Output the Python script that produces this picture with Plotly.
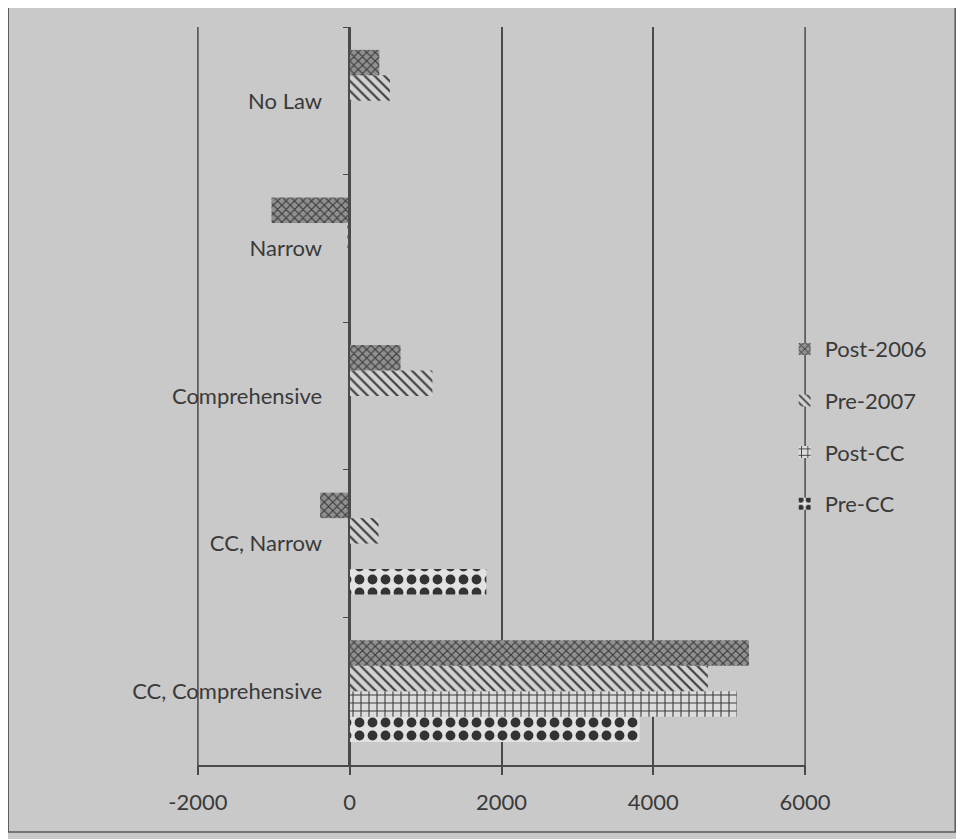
import plotly.graph_objects as go

categories = ["CC, Comprehensive", "CC, Narrow", "Comprehensive", "Narrow", "No Law"]
series_names = ["Pre-CC", "Post-CC", "Pre-2007", "Post-2006"]
pre_cc = [3820, 1800, 0, 0, 0]
post_cc = [5100, 0, 0, 0, 0]
pre_2007 = [4720, 380, 1090, -30, 530]
post_2006 = [5260, -390, 670, -1030, 390]
x_ticks = [-2000, 0, 2000, 4000, 6000]

values = [pre_cc, post_cc, pre_2007, post_2006]
patterns = [
    dict(shape=".", size=13, solidity=0.45, fgcolor="#333333", bgcolor="#e2e2e2", fillmode="replace"),
    dict(shape="+", size=8, solidity=0.25, fgcolor="#3a3a3a", bgcolor="#dcdcdc", fillmode="replace"),
    dict(shape="\\", size=7, solidity=0.3, fgcolor="#3c3c3c", bgcolor="#d2d2d2", fillmode="replace"),
    dict(shape="x", size=6, solidity=0.35, fgcolor="#3a3a3a", bgcolor="#909090", fillmode="replace"),
]

fig = go.Figure()
n = len(series_names)
for i, (name, vals, pat) in enumerate(zip(series_names, values, patterns)):
    fig.add_trace(go.Bar(
        y=categories, x=vals, name=name, orientation="h",
        marker=dict(color="#a8a8a8", pattern=pat, line=dict(width=0)),
        legendgroup=name, legendrank=n - i,
    ))

grid = "#4a4a4a"
shapes = [dict(type="line", xref="x", yref="paper", x0=v, x1=v, y0=0, y1=1,
               line=dict(color=grid, width=1.5), layer="below")
          for v in (x_ticks[0], x_ticks[-1])]
shapes.append(dict(type="rect", xref="paper", yref="paper",
                   x0=-0.31, x1=1.245, y0=-0.0908, y1=1.0298,
                   line=dict(color="#5a5a5a", width=1.5)))

txt = "#3a3a3a"
fig.update_layout(
    width=964, height=839,
    barmode="group", bargap=0.31, bargroupgap=0,
    paper_bgcolor="#c9c9c9", plot_bgcolor="#c9c9c9",
    margin=dict(l=189, r=166, t=19, b=82),
    font=dict(family="Lato, Open Sans, sans-serif", size=22, color=txt),
    xaxis=dict(
        range=[-2012, 6012], tickvals=x_ticks, ticktext=[str(v) for v in x_ticks],
        showgrid=True, gridcolor=grid, gridwidth=1.5,
        zeroline=False, showline=True, linecolor=grid, linewidth=1.5,
        ticks="outside", ticklen=8, tickcolor=grid, tickwidth=1.5,
        ticklabelstandoff=9,
    ),
    yaxis=dict(
        type="category", categoryorder="array", categoryarray=categories,
        anchor="free", position=0.25,
        showline=True, linecolor=grid, linewidth=1.5,
        ticks="outside", ticklen=6, tickcolor=grid, tickson="boundaries",
        showgrid=False, ticklabelstandoff=22,
    ),
    legend=dict(
        x=0.965, y=0.592, xanchor="left", yanchor="top",
        traceorder="grouped", tracegroupgap=20,
        bgcolor="rgba(0,0,0,0)", font=dict(size=22, color=txt),
        itemwidth=30,
    ),
    shapes=shapes,
)

fig.write_html("out.html")
